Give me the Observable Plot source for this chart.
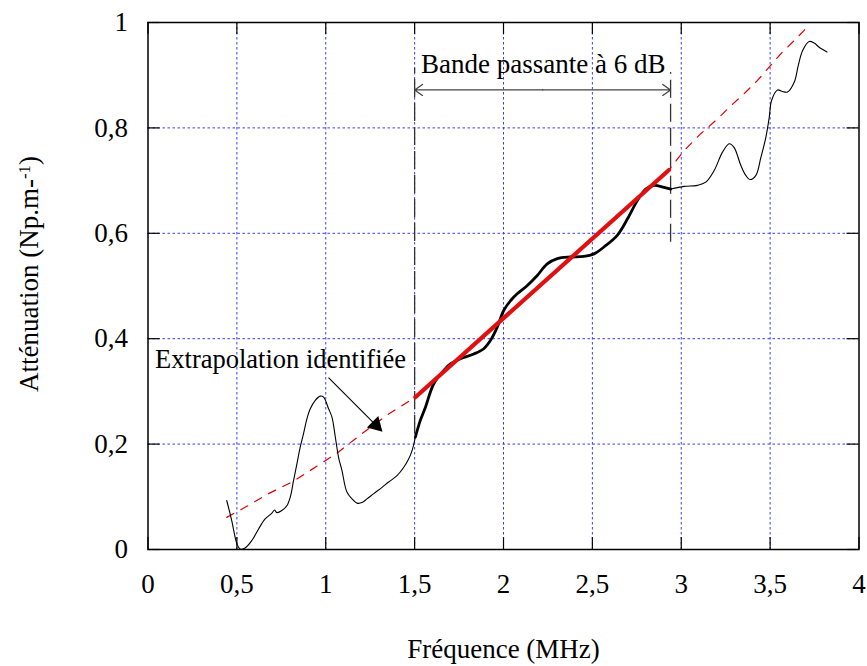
<!DOCTYPE html>
<html><head><meta charset="utf-8">
<script src="https://cdn.jsdelivr.net/npm/d3@7"></script>
<script src="https://cdn.jsdelivr.net/npm/@observablehq/plot@0.6"></script>
<style>body{margin:0;background:#fff}</style>
</head><body><div id="chart"></div>
<script>
// Measured attenuation curve (MHz, Np/m)
const freq = [0.443,0.471,0.500,0.518,0.546,0.584,0.622,0.659,0.697,0.712,0.725,0.753,0.781,0.800,0.819,0.838,0.856,0.875,0.894,0.913,0.941,0.969,0.988,1.016,1.035,1.054,1.072,1.091,1.119,1.148,1.176,1.204,1.232,1.270,1.317,1.354,1.401,1.439,1.467,1.486,1.504,1.532,1.561,1.607,1.664,1.701,1.758,1.833,1.889,1.927,1.965,2.002,2.058,2.134,2.190,2.246,2.303,2.377,2.452,2.509,2.565,2.640,2.697,2.753,2.800,2.847,2.903,2.941,3.016,3.091,3.138,3.185,3.232,3.270,3.297,3.335,3.363,3.388,3.420,3.448,3.476,3.495,3.508,3.542,3.570,3.598,3.636,3.658,3.683,3.720,3.748,3.776,3.820];
const atten = [0.093,0.055,0.011,0.001,0.003,0.017,0.039,0.058,0.069,0.075,0.070,0.074,0.083,0.099,0.131,0.163,0.194,0.220,0.248,0.267,0.283,0.291,0.289,0.267,0.251,0.213,0.175,0.150,0.109,0.096,0.088,0.089,0.096,0.106,0.118,0.128,0.140,0.156,0.172,0.188,0.213,0.245,0.270,0.314,0.340,0.352,0.362,0.371,0.381,0.397,0.422,0.454,0.479,0.501,0.520,0.542,0.552,0.555,0.556,0.561,0.574,0.596,0.627,0.662,0.684,0.691,0.687,0.684,0.689,0.691,0.697,0.719,0.754,0.770,0.763,0.729,0.710,0.702,0.710,0.744,0.782,0.820,0.852,0.872,0.869,0.868,0.887,0.918,0.947,0.964,0.961,0.953,0.944];
// Identified extrapolation (dashed red)
const extrapFreq = [0.443,0.546,0.678,0.810,0.941,1.072,1.204,1.354,1.504,2.935,3.016,3.110,3.204,3.279,3.354,3.429,3.486,3.561,3.636,3.692,3.711];
const extrapAtten = [0.061,0.080,0.106,0.128,0.156,0.185,0.220,0.257,0.289,0.722,0.757,0.789,0.817,0.842,0.865,0.890,0.912,0.941,0.966,0.985,0.998];
// Fit over the 6 dB bandwidth (solid red)
const fitFreq = [1.504, 2.931];
const fitAtten = [0.289, 0.720];
const bandEdges = [1.5, 2.94];
const xTicks = [0,0.5,1,1.5,2,2.5,3,3.5,4];
const yTicks = [0,0.2,0.4,0.6,0.8,1];
const xLabel = "Fréquence (MHz)";
const yLabel = "Atténuation (Np.m-1)";
const bandLabel = "Bande passante à 6 dB";
const extrapLabel = "Extrapolation identifiée";

const W = 867, H = 666, mL = 147.5, mR = 8.5, mT = 22, mB = 117;
const tickLen = 12;
const kx = (xTicks[xTicks.length-1] - xTicks[0]) / (W - mL - mR);
const ky = (yTicks[yTicks.length-1] - yTicks[0]) / (H - mT - mB);
const fmt = d => String(d).replace(".", ",");
const font = "Liberation Serif";

const measured = freq.map((f, i) => ({f, a: atten[i]}));
const thin = [
  ...measured.filter(d => d.f <= bandEdges[0] + 0.005).map(d => ({...d, seg: 0})),
  ...measured.filter(d => d.f >= bandEdges[1]).map(d => ({...d, seg: 1}))
];
const thick = measured.filter(d => d.f >= bandEdges[0] && d.f <= bandEdges[1] + 0.005);
const extrap = extrapFreq.map((f, i) => ({f, a: extrapAtten[i]}));
const fit = fitFreq.map((f, i) => ({f, a: fitAtten[i]}));

// annotation anchors (data units)
const bandMarkers = [{x: bandEdges[0], y1: 0.22, y2: 0.913}, {x: bandEdges[1], y1: 0.583, y2: 0.905}];
const bandArrowY = 0.872;
const bandMid = (bandEdges[0] + bandEdges[1]) / 2;
const bandArrows = [{x1: bandMid, x2: bandEdges[0]}, {x1: bandMid, x2: bandEdges[1]}];
const bandLabelPos = {x: 1.536, y: 0.905};
const extrapLabelPos = {x: 0.04, y: 0.345};
const extrapArrow = {x1: 1.0155, y1: 0.326, x2: 1.282, y2: 0.236};

const gridColor = "#3b3bff";

const chart = Plot.plot({
  width: W, height: H,
  marginLeft: mL, marginRight: mR, marginTop: mT, marginBottom: mB,
  x: {domain: [0, 4]},
  y: {domain: [0, 1]},
  style: {fontFamily: font, background: "#fff", color: "#000"},
  marks: [
    Plot.ruleX(xTicks.slice(1, -1), {x: d => d, stroke: gridColor, strokeDasharray: "2.5,2.5", strokeWidth: 1}),
    Plot.ruleY(yTicks.slice(1, -1), {y: d => d, stroke: gridColor, strokeDasharray: "2.5,2.5", strokeWidth: 1}),
    Plot.ruleX(bandMarkers, {x: "x", y1: "y1", y2: "y2", stroke: "#333", strokeWidth: 1.3, strokeDasharray: "18,6"}),
    Plot.line(extrap, {x: "f", y: "a", stroke: "#e00000", strokeWidth: 1.2, strokeDasharray: "8,8"}),
    Plot.line(thin, {x: "f", y: "a", z: "seg", stroke: "#000", strokeWidth: 1.1, curve: "catmull-rom"}),
    Plot.line(thick, {x: "f", y: "a", stroke: "#000", strokeWidth: 2.8, curve: "catmull-rom"}),
    Plot.line(fit, {x: "f", y: "a", stroke: "#e01010", strokeWidth: 4.2}),
    Plot.arrow(bandArrows, {x1: "x1", x2: "x2", y1: () => bandArrowY, y2: () => bandArrowY, stroke: "#444", strokeWidth: 1.3, headLength: 11, headAngle: 70, insetStart: 0, insetEnd: 0}),
    Plot.text([bandLabel], {x: () => bandLabelPos.x, y: () => bandLabelPos.y, text: d => d, textAnchor: "start", lineAnchor: "bottom", fontSize: 27, fontFamily: font, fill: "#000"}),
    Plot.text([extrapLabel], {x: () => extrapLabelPos.x, y: () => extrapLabelPos.y, text: d => d, textAnchor: "start", lineAnchor: "bottom", fontSize: 26.5, fontFamily: font, fill: "#000"}),
    Plot.link([extrapArrow], {x1: "x1", y1: "y1", x2: "x2", y2: "y2", stroke: "#000", strokeWidth: 1.1}),
    Plot.dot([extrapArrow], {x: "x2", y: "y2", symbol: "triangle", r: 6, fill: "#000", stroke: null, rotate: 135}),
    Plot.frame({stroke: "#000", strokeWidth: 1.5}),
    // inward ticks on all four sides
    Plot.ruleX(xTicks, {x: d => d, y1: 0, y2: tickLen * ky, stroke: "#000", strokeWidth: 1.2}),
    Plot.ruleX(xTicks, {x: d => d, y1: 1 - tickLen * ky, y2: 1, stroke: "#000", strokeWidth: 1.2}),
    Plot.ruleY(yTicks, {y: d => d, x1: 0, x2: tickLen * kx, stroke: "#000", strokeWidth: 1.2}),
    Plot.ruleY(yTicks, {y: d => d, x1: 4 - tickLen * kx, x2: 4, stroke: "#000", strokeWidth: 1.2}),
    Plot.axisX({ticks: xTicks, tickFormat: fmt, tickSize: 0, tickPadding: 24, fontSize: 27, fontFamily: font, label: null, fill: "#000"}),
    Plot.axisY({ticks: yTicks, tickFormat: fmt, tickSize: 0, tickPadding: 20, fontSize: 27, fontFamily: font, label: null, fill: "#000"}),
    Plot.text([xLabel], {frameAnchor: "bottom", text: d => d, dy: 108, textAnchor: "middle", lineAnchor: "bottom", fontSize: 27, fontFamily: font, fill: "#000"}),
    Plot.text([yLabel], {frameAnchor: "left", text: d => d, dx: -110, dy: -12, rotate: -90, textAnchor: "middle", lineAnchor: "bottom", fontSize: 27, fontFamily: font, fill: "#000"})
  ]
});
document.getElementById("chart").appendChild(chart);

// render the "-1" of the y label as a superscript
chart.querySelectorAll("text").forEach(t => {
  if (t.textContent === yLabel) {
    const base = yLabel.slice(0, -2);
    t.textContent = "";
    const ns = "http://www.w3.org/2000/svg";
    const a = document.createElementNS(ns, "tspan"); a.textContent = base.replace(/\)$/, "");
    const b = document.createElementNS(ns, "tspan"); b.textContent = "-1"; b.setAttribute("dy", "-0.45em"); b.setAttribute("font-size", "0.62em");
    const c = document.createElementNS(ns, "tspan"); c.textContent = ")"; c.setAttribute("dy", "0.28em");
    t.append(a, b, c);
  }
});
</script>
</body></html>
